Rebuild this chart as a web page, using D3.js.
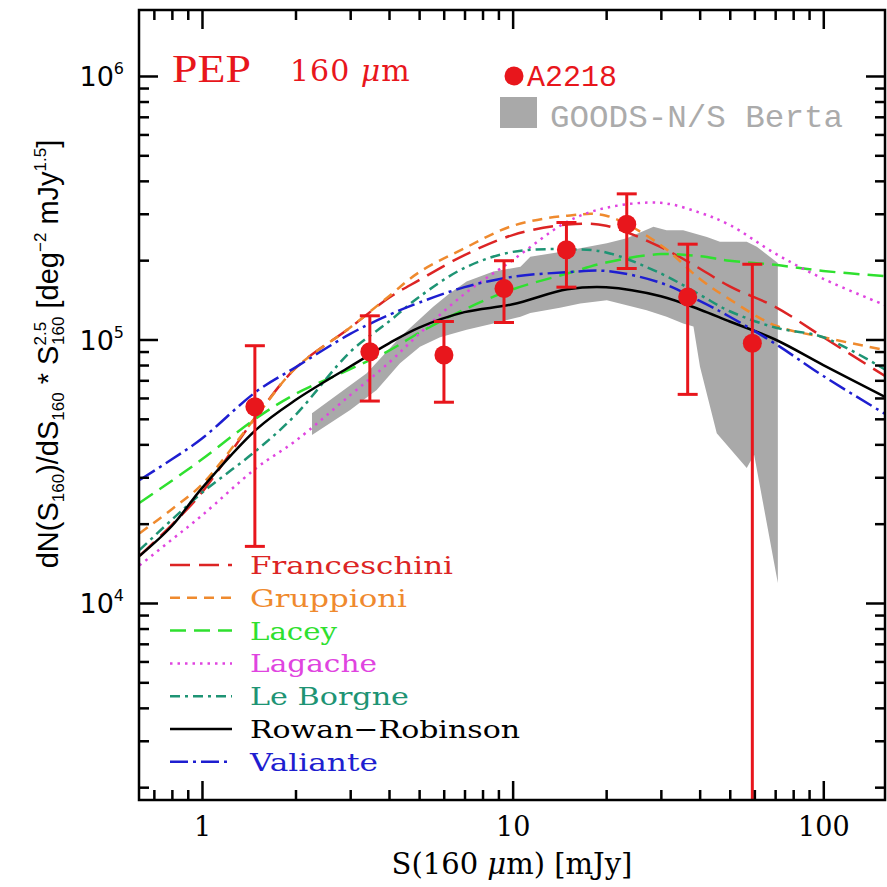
<!DOCTYPE html>
<html>
<head>
<meta charset="utf-8">
<script src="https://d3js.org/d3.v7.min.js"></script>
<style>
  body { margin: 0; background: #fff; }
</style>
</head>
<body>
<div class="vis"></div>
<script>
// model curves, all sampled on the same flux grid (mJy)
var S = [0.63, 0.8, 1, 1.5, 2, 3, 4, 5, 7, 10, 15, 20, 30, 40, 50, 70, 100, 158];
var franceschini = [1.51e4, 1.98e4, 2.63e4, 5.13e4, 7.78e4, 1.11e5, 1.44e5, 1.68e5, 2.09e5, 2.49e5, 2.73e5, 2.70e5, 2.24e5, 1.86e5, 1.59e5, 1.33e5, 1.02e5, 7.27e4];
var gruppioni = [1.84e4, 2.27e4, 2.82e4, 5.13e4, 7.78e4, 1.11e5, 1.46e5, 1.80e5, 2.22e5, 2.70e5, 2.95e5, 2.95e5, 2.28e5, 1.70e5, 1.42e5, 1.13e5, 1.02e5, 9.12e4];
var lacey = [2.40e4, 2.91e4, 3.51e4, 5.04e4, 6.21e4, 7.72e4, 9.07e4, 1.06e5, 1.30e5, 1.55e5, 1.78e5, 1.96e5, 2.11e5, 2.07e5, 1.99e5, 1.92e5, 1.82e5, 1.74e5];
var lagache = [1.39e4, 1.74e4, 2.15e4, 3.26e4, 4.12e4, 6.15e4, 8.17e4, 1.05e5, 1.49e5, 2.00e5, 2.80e5, 3.16e5, 3.30e5, 3.03e5, 2.72e5, 2.12e5, 1.70e5, 1.35e5];
var leBorgne = [1.59e4, 2.07e4, 2.62e4, 3.80e4, 5.17e4, 8.97e4, 1.17e5, 1.45e5, 1.87e5, 2.15e5, 2.20e5, 2.14e5, 1.78e5, 1.48e5, 1.28e5, 1.11e5, 1.02e5, 7.69e4];
var rowanRobinson = [1.51e4, 1.96e4, 2.73e4, 4.57e4, 5.89e4, 7.90e4, 9.67e4, 1.11e5, 1.27e5, 1.36e5, 1.55e5, 1.58e5, 1.46e5, 1.30e5, 1.17e5, 1.00e5, 8.00e4, 6.05e4];
var valiante = [2.93e4, 3.51e4, 4.21e4, 6.36e4, 7.84e4, 1.05e5, 1.24e5, 1.38e5, 1.58e5, 1.73e5, 1.80e5, 1.82e5, 1.64e5, 1.40e5, 1.22e5, 9.64e4, 7.27e4, 5.22e4];

// A2218 counts with error bars
var a2218S = [1.48, 3.47, 6.01, 9.38, 14.9, 23.3, 36.6, 59.1];
var a2218V = [5.56e4, 8.99e4, 8.73e4, 1.56e5, 2.19e5, 2.74e5, 1.45e5, 9.67e4];
var a2218Hi = [9.47e4, 1.23e5, 1.17e5, 1.99e5, 2.78e5, 3.57e5, 2.30e5, 1.93e5];
var a2218Lo = [1.64e4, 5.84e4, 5.78e4, 1.16e5, 1.58e5, 1.86e5, 6.19e4, 1e3];

// GOODS-N/S Berta band
var bertaUpS = [2.26, 3.39, 4.34, 5.55, 6.29, 7.11, 8.67, 10.6, 11.4, 14.2, 16.5, 20.1, 23.3, 28.4, 31.3, 35.4, 42.2, 46.5, 56.7, 61.1, 71.4];
var bertaUpV = [5.25e4, 7.44e4, 1.02e5, 1.33e5, 1.50e5, 1.66e5, 1.81e5, 1.89e5, 2.06e5, 2.15e5, 2.22e5, 2.32e5, 2.42e5, 2.68e5, 2.60e5, 2.60e5, 2.45e5, 2.35e5, 2.35e5, 2.25e5, 1.95e5];
var bertaLoS = [2.26, 3.00, 3.65, 4.34, 5.03, 5.84, 7.11, 8.67, 10.6, 11.4, 14.2, 16.5, 20.1, 23.3, 27.0, 31.3, 35.4, 38.2, 40.1, 45.4, 56.7, 59.9, 71.4];
var bertaLoV = [4.34e4, 5.40e4, 6.43e4, 8.12e4, 9.39e4, 1.02e5, 1.09e5, 1.15e5, 1.22e5, 1.26e5, 1.32e5, 1.37e5, 1.41e5, 1.35e5, 1.29e5, 1.22e5, 1.15e5, 1.12e5, 7.88e4, 4.41e4, 3.25e4, 3.65e4, 1.19e4];

var modelNames = ["Franceschini", "Gruppioni", "Lacey", "Lagache", "Le Borgne", "Rowan\u2212Robinson", "Valiante"];
var modelValues = [franceschini, gruppioni, lacey, lagache, leBorgne, rowanRobinson, valiante];
var modelColors = ["#dc2424", "#ef8a2e", "#2fe02f", "#e044e0", "#1e9474", "#000000", "#1e1ed0"];
var modelDash = ["20,9", "10,7", "16,8", "2.5,5", "10,5,3,5", null, "18,5,3,5"];
var legendWidths = [203, 157, 87, 127, 159, 270, 128];

var xMajor = [1, 10, 100];
var yMajor = [1e4, 1e5, 1e6];

var width = 887, height = 887;
var margin = { top: 10, right: 2, bottom: 87, left: 139 };

var x = d3.scaleLog().domain([0.627, 158]).range([margin.left, width - margin.right]);
var y = d3.scaleLog().domain([1.788e3, 1.78e6]).range([height - margin.bottom, margin.top]);

var svg = d3.select(".vis").append("svg")
    .attr("width", width).attr("height", height)
    .attr("viewBox", [0, 0, width, height]);

svg.append("clipPath").attr("id", "plotclip")
    .append("rect")
    .attr("x", margin.left).attr("y", margin.top)
    .attr("width", width - margin.right - margin.left)
    .attr("height", height - margin.bottom - margin.top);

var plot = svg.append("g").attr("clip-path", "url(#plotclip)");

// grey band
var band = bertaUpS.map((s, i) => [s, bertaUpV[i]])
    .concat(bertaLoS.map((s, i) => [s, bertaLoV[i]]).reverse());
plot.append("path")
    .attr("d", d3.line().x(d => x(d[0])).y(d => y(d[1]))(band) + "Z")
    .attr("fill", "#a9a9a9");

// model curves
var line = d3.line()
    .x(d => x(d[0]))
    .y(d => y(d[1]))
    .curve(d3.curveCatmullRom.alpha(0.5));

modelValues.forEach(function (vals, i) {
    plot.append("path")
        .attr("d", line(S.map((s, j) => [s, vals[j]])))
        .attr("fill", "none")
        .attr("stroke", modelColors[i])
        .attr("stroke-width", 2.5)
        .attr("stroke-dasharray", modelDash[i]);
});

// A2218 points
var red = "#e8161c";
var pts = plot.append("g");
a2218S.forEach(function (s, i) {
    pts.append("line")
        .attr("x1", x(s)).attr("x2", x(s))
        .attr("y1", y(a2218Hi[i])).attr("y2", y(a2218Lo[i]))
        .attr("stroke", red).attr("stroke-width", 3);
    [a2218Hi[i], a2218Lo[i]].forEach(function (v) {
        pts.append("line")
            .attr("x1", x(s) - 10).attr("x2", x(s) + 10)
            .attr("y1", y(v)).attr("y2", y(v))
            .attr("stroke", red).attr("stroke-width", 3);
    });
    pts.append("circle")
        .attr("cx", x(s)).attr("cy", y(a2218V[i]))
        .attr("r", 9.5).attr("fill", red);
});

// axes: ticks on all four sides, pointing inward
var xMinor = x.ticks().filter(d => xMajor.indexOf(d) < 0);
var yMinor = y.ticks().filter(d => yMajor.indexOf(d) < 0);

function styleAxis(g) {
    g.select(".domain").remove();
    g.selectAll(".tick line").attr("stroke", "#000").attr("stroke-width", 2.5);
}

svg.append("g").attr("transform", `translate(0,${height - margin.bottom})`)
    .call(d3.axisBottom(x).tickValues(xMinor).tickSize(-10).tickFormat(""))
    .call(styleAxis);
svg.append("g").attr("transform", `translate(0,${height - margin.bottom})`)
    .call(d3.axisBottom(x).tickValues(xMajor).tickSize(-19).tickPadding(17).tickFormat(d3.format("d")))
    .call(styleAxis)
    .call(g => g.selectAll("text")
        .attr("font-family", "DejaVu Serif").attr("font-size", 27).attr("fill", "#000"));
svg.append("g").attr("transform", `translate(0,${margin.top})`)
    .call(d3.axisTop(x).tickValues(xMinor).tickSize(-10).tickFormat(""))
    .call(styleAxis);
svg.append("g").attr("transform", `translate(0,${margin.top})`)
    .call(d3.axisTop(x).tickValues(xMajor).tickSize(-19).tickFormat(""))
    .call(styleAxis);

svg.append("g").attr("transform", `translate(${margin.left},0)`)
    .call(d3.axisLeft(y).tickValues(yMinor).tickSize(-10).tickFormat(""))
    .call(styleAxis);
svg.append("g").attr("transform", `translate(${margin.left},0)`)
    .call(d3.axisLeft(y).tickValues(yMajor).tickSize(-19).tickPadding(15).tickFormat(""))
    .call(styleAxis)
    .call(g => g.selectAll(".tick text").each(function (d) {
        var t = d3.select(this)
            .attr("font-family", "DejaVu Sans").attr("font-size", 27).attr("fill", "#000")
            .attr("dy", "0.36em");
        t.append("tspan").text("10");
        t.append("tspan").text(Math.round(Math.log10(d)))
            .attr("font-size", 16).attr("dy", "-0.75em");
    }));
svg.append("g").attr("transform", `translate(${width - margin.right},0)`)
    .call(d3.axisRight(y).tickValues(yMinor).tickSize(-10).tickFormat(""))
    .call(styleAxis);
svg.append("g").attr("transform", `translate(${width - margin.right},0)`)
    .call(d3.axisRight(y).tickValues(yMajor).tickSize(-19).tickFormat(""))
    .call(styleAxis);

// frame
svg.append("rect")
    .attr("x", margin.left).attr("y", margin.top)
    .attr("width", width - margin.right - margin.left)
    .attr("height", height - margin.bottom - margin.top)
    .attr("fill", "none").attr("stroke", "#000").attr("stroke-width", 2.5);

// axis titles
var xt = svg.append("text")
    .attr("x", 512).attr("y", 874)
    .attr("text-anchor", "middle")
    .attr("font-family", "DejaVu Serif").attr("font-size", 29).attr("fill", "#000");
xt.append("tspan").text("S(160 ");
xt.append("tspan").text("\u03bc").attr("font-style", "italic");
xt.append("tspan").text("m) [mJy]");

var yt = svg.append("text")
    .attr("transform", "translate(58,354) rotate(-90)")
    .attr("text-anchor", "middle")
    .attr("font-family", "Liberation Sans").attr("font-size", 29).attr("fill", "#000");
yt.append("tspan").text("dN(S");
yt.append("tspan").text("160").attr("font-size", 17).attr("dy", 6);
yt.append("tspan").text(")/dS").attr("dy", -6);
yt.append("tspan").text("160").attr("font-size", 17).attr("dy", 6);
yt.append("tspan").text("  *  S").attr("dy", -6);
yt.append("tspan").text("2.5").attr("font-size", 17).attr("dy", -12);
yt.append("tspan").text("160").attr("font-size", 17).attr("dx", -23).attr("dy", 18);
yt.append("tspan").text(" [deg").attr("dy", -6);
yt.append("tspan").text("\u22122").attr("font-size", 17).attr("dy", -12);
yt.append("tspan").text(" mJy").attr("dy", 12);
yt.append("tspan").text("1.5").attr("font-size", 17).attr("dy", -12);
yt.append("tspan").text("]").attr("dy", 12);

// header labels
svg.append("text").attr("x", 172).attr("y", 82)
    .attr("font-family", "Liberation Serif").attr("font-size", 40)
    .attr("textLength", 79).attr("lengthAdjust", "spacingAndGlyphs")
    .attr("fill", red).text("PEP");
var wl = svg.append("text").attr("x", 290).attr("y", 81)
    .attr("font-family", "DejaVu Serif").attr("font-size", 30)
    .attr("letter-spacing", 1).attr("fill", red);
wl.append("tspan").text("160 ");
wl.append("tspan").text("\u03bc").attr("font-style", "italic");
wl.append("tspan").text("m");

svg.append("circle").attr("cx", 514).attr("cy", 76).attr("r", 9.5).attr("fill", red);
svg.append("text").attr("x", 527).attr("y", 86)
    .attr("font-family", "Liberation Mono").attr("font-size", 30)
    .attr("fill", red).text("A2218");
svg.append("rect").attr("x", 500).attr("y", 97).attr("width", 37).attr("height", 31)
    .attr("fill", "#a9a9a9");
svg.append("text").attr("x", 550).attr("y", 127)
    .attr("font-family", "Liberation Mono").attr("font-size", 32)
    .attr("textLength", 293).attr("lengthAdjust", "spacingAndGlyphs")
    .attr("fill", "#ababab").text("GOODS-N/S Berta");

// legend
var legend = svg.append("g");
modelNames.forEach(function (name, i) {
    var ly = 565 + i * 32.8;
    legend.append("line")
        .attr("x1", 170).attr("x2", 232).attr("y1", ly).attr("y2", ly)
        .attr("stroke", modelColors[i]).attr("stroke-width", 2.5)
        .attr("stroke-dasharray", modelDash[i]);
    legend.append("text")
        .attr("x", 250).attr("y", ly + 9)
        .attr("font-family", "DejaVu Serif").attr("font-size", 25)
        .attr("textLength", legendWidths[i]).attr("lengthAdjust", "spacingAndGlyphs")
        .attr("fill", modelColors[i]).text(name);
});
</script>
</body>
</html>
